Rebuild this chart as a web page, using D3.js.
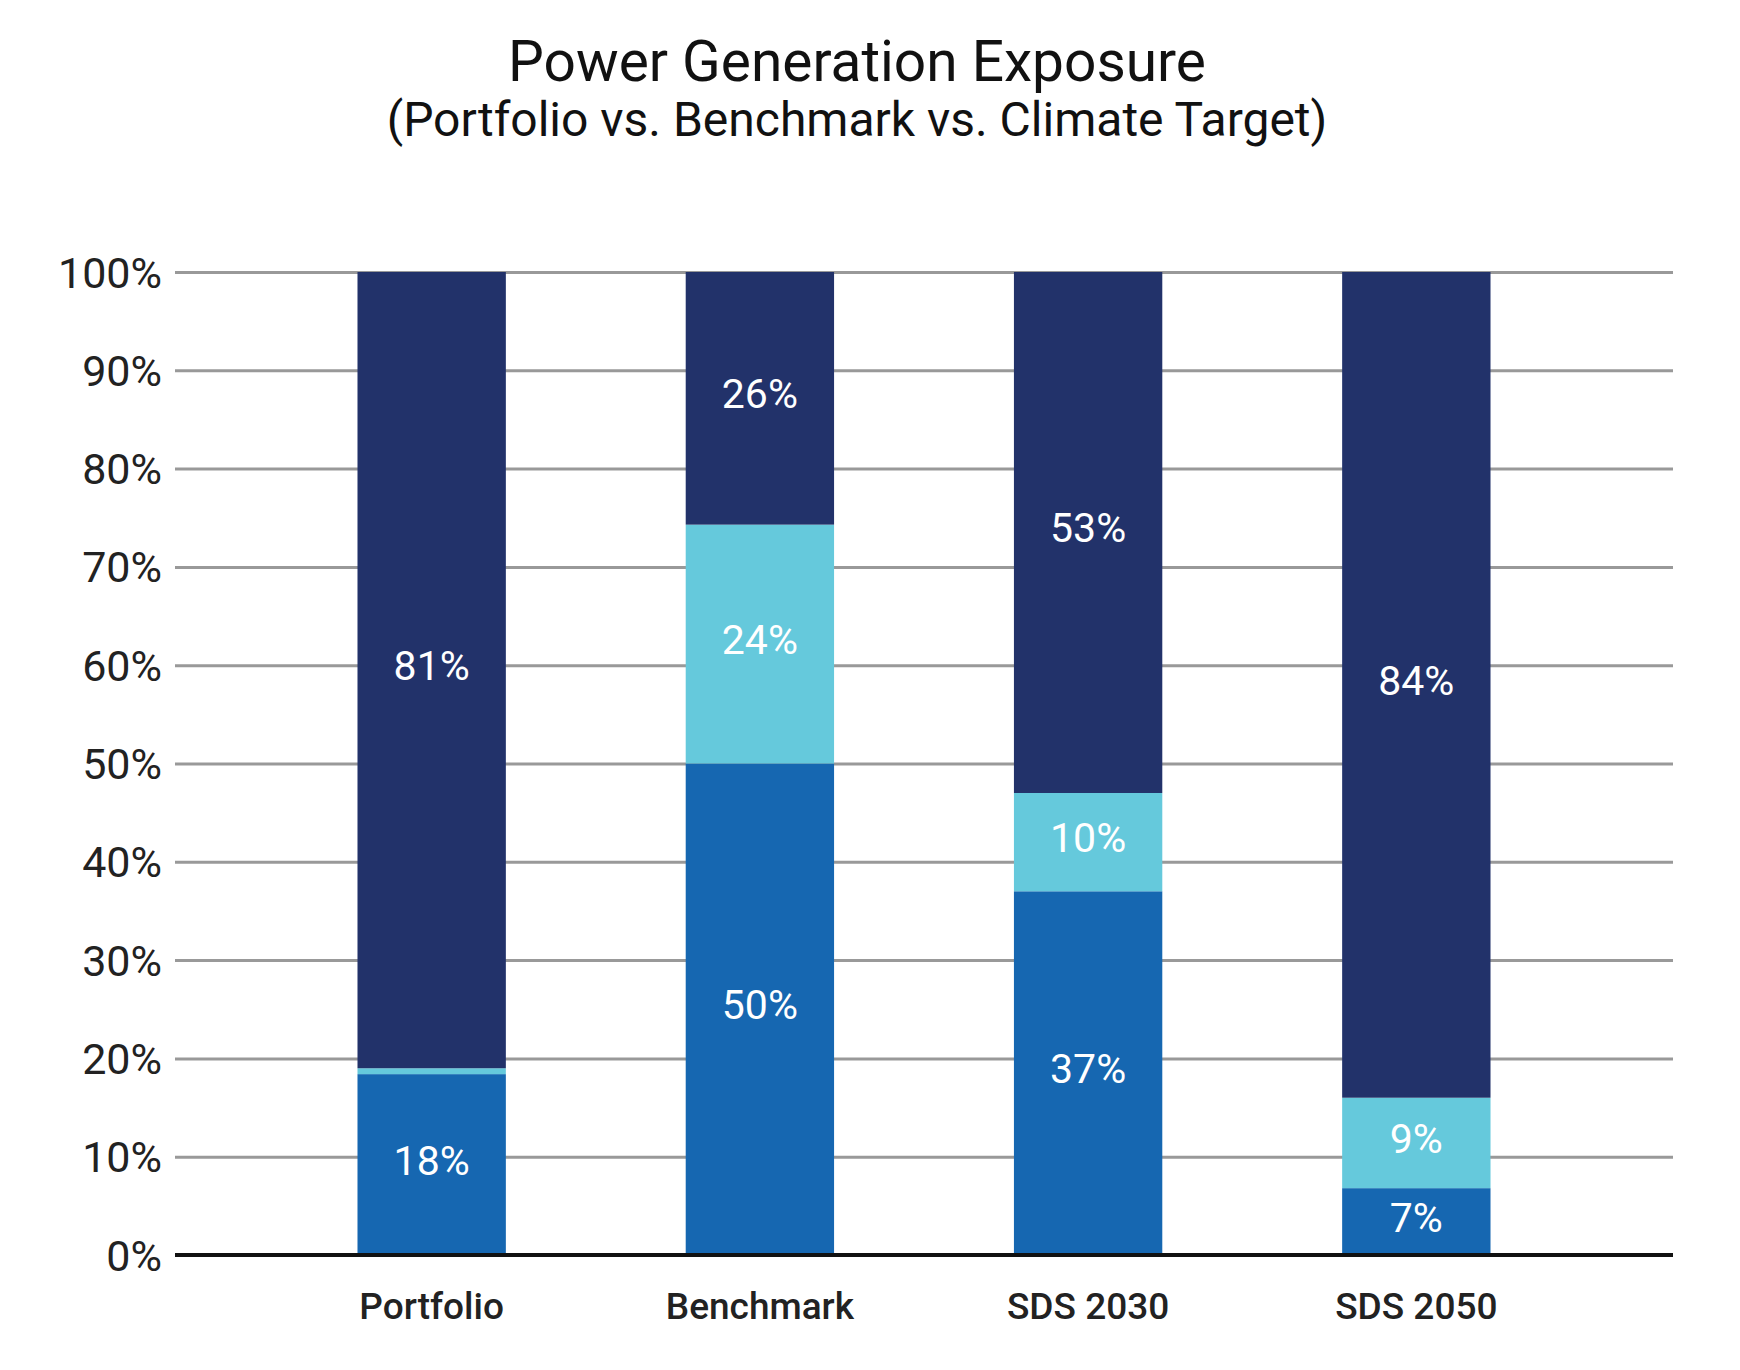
<!DOCTYPE html>
<head>
  <meta charset="utf-8">
  <title>Power Generation Exposure</title>
  <script type="text/javascript" src="https://d3js.org/d3.v7.min.js"></script>
  <style>
    body { margin: 0; background: #fff; }
    text { font-family: Roboto, "Noto Sans", sans-serif; }
  </style>
</head>

<body>
  <script>
    // chart values
    var categories = ["Portfolio", "Benchmark", "SDS 2030", "SDS 2050"];
    var seriesBottom = [18.4, 50.0, 37.0, 6.8];
    var seriesMiddle = [0.6, 24.3, 10.0, 9.2];
    var seriesTop = [81.0, 25.7, 53.0, 84.0];
    var yTicks = [0, 10, 20, 30, 40, 50, 60, 70, 80, 90, 100];

    var keys = ["bottom", "middle", "top"];
    var colors = { bottom: "#1667b1", middle: "#65c9dc", top: "#22326a" };

    var rows = categories.map(function(c, i) {
      return { cat: c, bottom: seriesBottom[i], middle: seriesMiddle[i], top: seriesTop[i] };
    });

    var W = 1740, H = 1370;
    var x0 = 175, x1 = 1673, yBase = 1255, yTop = 272;

    var svg = d3.select("body").append("svg")
      .attr("width", W)
      .attr("height", H);

    var x = d3.scaleBand()
      .domain(categories)
      .range([x0, x1])
      .paddingInner(0.548)
      .paddingOuter(0.556);

    var y = d3.scaleLinear()
      .domain([0, 100])
      .range([yBase, yTop]);

    // titles
    svg.append("text")
      .attr("x", 857).attr("y", 81)
      .attr("text-anchor", "middle")
      .attr("font-size", 56.8)
      .attr("fill", "#111")
      .text("Power Generation Exposure");
    svg.append("text")
      .attr("x", 857).attr("y", 136)
      .attr("text-anchor", "middle")
      .attr("font-size", 48)
      .attr("fill", "#111")
      .text("(Portfolio vs. Benchmark vs. Climate Target)");

    // y axis + gridlines
    var gy = svg.append("g")
      .attr("transform", "translate(" + x0 + ",0)")
      .call(d3.axisLeft(y)
        .tickValues(yTicks)
        .tickSize(-(x1 - x0))
        .tickPadding(13)
        .tickFormat(function(d) { return d + "%"; }));
    gy.select(".domain").remove();
    gy.selectAll(".tick line")
      .attr("stroke", "#999")
      .attr("stroke-width", 3);
    gy.selectAll(".tick text")
      .attr("font-size", 43)
      .attr("font-family", "Roboto, sans-serif")
      .attr("fill", "#222")
      .attr("dy", "0.35em");

    // stacked bars
    var stacked = d3.stack().keys(keys)(rows);

    var layers = svg.append("g").selectAll("g")
      .data(stacked)
      .enter().append("g")
      .attr("fill", function(d) { return colors[d.key]; });

    layers.selectAll("rect")
      .data(function(d) { return d; })
      .enter().append("rect")
      .attr("x", function(d) { return x(d.data.cat); })
      .attr("width", x.bandwidth())
      .attr("y", function(d) { return y(d[1]); })
      .attr("height", function(d) { return y(d[0]) - y(d[1]); });

    // value labels
    layers.selectAll("text")
      .data(function(d) { return d.filter(function(s) { return s[1] - s[0] >= 3; }); })
      .enter().append("text")
      .attr("x", function(d) { return x(d.data.cat) + x.bandwidth() / 2; })
      .attr("y", function(d) { return (y(d[0]) + y(d[1])) / 2 + 10; })
      .attr("text-anchor", "middle")
      .attr("font-size", 41)
      .attr("fill", "#fff")
      .text(function(d) { return Math.round(d[1] - d[0]) + "%"; });

    // baseline
    svg.append("line")
      .attr("x1", x0).attr("x2", x1)
      .attr("y1", y(0)).attr("y2", y(0))
      .attr("stroke", "#111")
      .attr("stroke-width", 4);

    // x axis labels
    var gx = svg.append("g")
      .attr("transform", "translate(0," + yBase + ")")
      .call(d3.axisBottom(x).tickSize(0));
    gx.select(".domain").remove();
    gx.selectAll(".tick text")
      .attr("y", 64)
      .attr("dy", null)
      .attr("font-size", 37)
      .attr("font-weight", 500)
      .attr("font-family", "Roboto, sans-serif")
      .attr("fill", "#222");
  </script>
</body>
